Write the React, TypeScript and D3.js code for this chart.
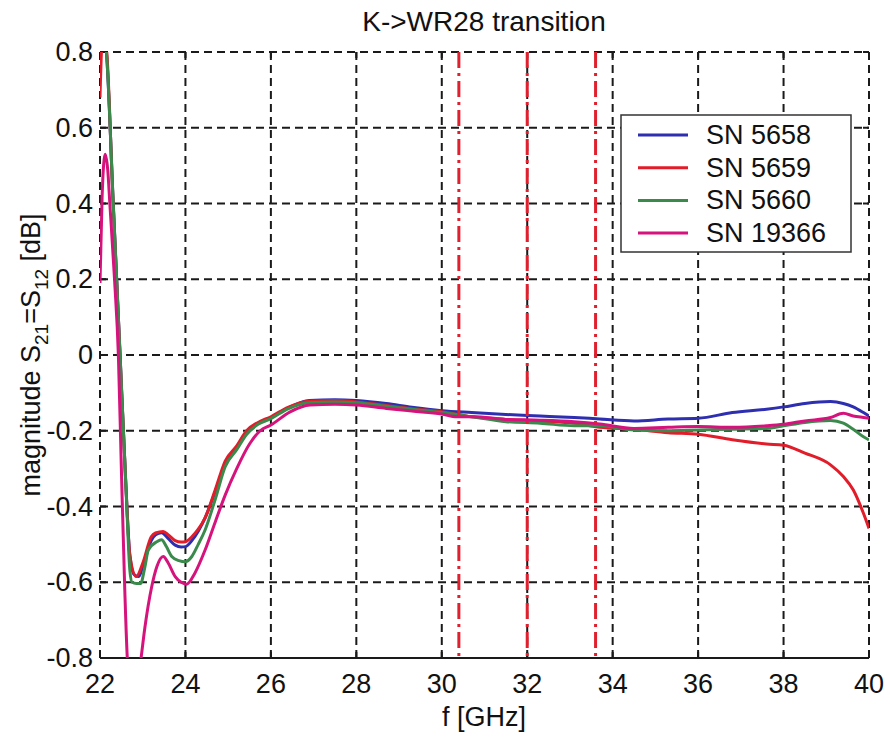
import React from "react";
import * as d3 from "d3";

// ---- data ----
const xTicks = [22, 24, 26, 28, 30, 32, 34, 36, 38, 40];
const yTicks = [0.8, 0.6, 0.4, 0.2, 0, -0.2, -0.4, -0.6, -0.8];
const yTickLabels = ["0.8", "0.6", "0.4", "0.2", "0", "-0.2", "-0.4", "-0.6", "-0.8"];
const markerFreqs = [30.4, 32, 33.6];

const seriesNames = ["SN 5658", "SN 5659", "SN 5660", "SN 19366"];
const seriesColors = ["#2e2eb0", "#e11d2a", "#3a8a4c", "#d6137c"];

const freq5658 = [22.0, 22.08, 22.15, 22.31, 22.47, 22.6, 22.7, 22.8, 22.9, 23.05, 23.2, 23.3, 23.44, 23.6, 23.76, 23.9, 24.0, 24.15, 24.3, 24.46, 24.7, 24.93, 25.2, 25.43, 25.7, 26.0, 26.4, 26.9, 27.5, 28.0, 28.7, 29.3, 30.0, 30.7, 31.5, 32.3, 33.1, 33.7, 34.5, 35.3, 36.0, 36.8, 37.6, 38.0, 38.5, 39.1, 39.4, 39.63, 39.87, 40.0];
const mag5658 = [0.80, 0.86, 0.80, 0.40, 0.0, -0.33, -0.53, -0.58, -0.585, -0.54, -0.49, -0.475, -0.469, -0.485, -0.502, -0.507, -0.506, -0.49, -0.465, -0.43, -0.36, -0.29, -0.245, -0.205, -0.18, -0.165, -0.14, -0.12, -0.118, -0.12, -0.128, -0.138, -0.147, -0.152, -0.157, -0.161, -0.165, -0.169, -0.174, -0.169, -0.167, -0.152, -0.143, -0.137, -0.128, -0.123, -0.128, -0.137, -0.152, -0.161];

const freq5659 = [22.0, 22.06, 22.14, 22.3, 22.46, 22.6, 22.7, 22.85, 23.0, 23.2, 23.3, 23.48, 23.6, 23.76, 23.9, 24.0, 24.15, 24.3, 24.46, 24.7, 24.93, 25.2, 25.43, 25.7, 26.0, 26.4, 26.9, 27.5, 28.0, 28.7, 29.3, 30.0, 30.7, 31.5, 32.3, 33.1, 33.7, 34.5, 35.3, 36.0, 36.8, 37.6, 38.0, 38.5, 39.1, 39.4, 39.63, 39.87, 40.0];
const mag5659 = [0.68, 0.84, 0.82, 0.42, 0.02, -0.33, -0.53, -0.585, -0.55, -0.48, -0.47, -0.466, -0.475, -0.49, -0.494, -0.493, -0.48, -0.46, -0.43, -0.355, -0.28, -0.24, -0.2, -0.178, -0.163, -0.138, -0.122, -0.12, -0.124, -0.133, -0.142, -0.15, -0.163, -0.17, -0.175, -0.18, -0.191, -0.196, -0.205, -0.209, -0.224, -0.235, -0.238, -0.259, -0.29, -0.321, -0.356, -0.418, -0.458];

const freq5660 = [22.0, 22.08, 22.15, 22.31, 22.39, 22.47, 22.6, 22.7, 22.75, 22.85, 22.95, 23.05, 23.13, 23.33, 23.44, 23.55, 23.68, 23.85, 23.99, 24.15, 24.3, 24.46, 24.7, 24.93, 25.2, 25.43, 25.7, 26.0, 26.4, 26.9, 27.5, 28.0, 28.7, 29.3, 30.0, 30.7, 31.5, 32.3, 33.1, 33.7, 34.5, 35.3, 36.0, 36.8, 37.6, 38.0, 38.5, 39.1, 39.4, 39.63, 39.87, 40.0];
const mag5660 = [0.82, 0.86, 0.80, 0.40, 0.20, 0.0, -0.33, -0.57, -0.6, -0.603, -0.603, -0.56, -0.515, -0.493, -0.488, -0.505, -0.532, -0.543, -0.546, -0.532, -0.5, -0.462, -0.38, -0.295, -0.25, -0.21, -0.183, -0.168, -0.142, -0.126, -0.124, -0.126, -0.135, -0.143, -0.152, -0.163, -0.176, -0.18, -0.187, -0.187, -0.198, -0.2, -0.198, -0.196, -0.194, -0.187, -0.178, -0.173, -0.18, -0.196, -0.216, -0.224];

const freq19366 = [22.0, 22.05, 22.12, 22.18, 22.23, 22.34, 22.43, 22.5, 22.58, 22.65, 22.8, 22.95, 23.05, 23.21, 23.33, 23.48, 23.6, 23.76, 23.9, 24.03, 24.22, 24.46, 24.7, 24.93, 25.2, 25.5, 25.75, 26.0, 26.45, 26.92, 27.5, 28.0, 28.7, 29.3, 30.0, 30.35, 30.74, 31.5, 32.3, 33.1, 33.7, 34.5, 35.3, 36.0, 36.8, 37.6, 38.0, 38.5, 39.1, 39.4, 39.63, 39.87, 40.0];
const mag19366 = [0.19, 0.42, 0.53, 0.49, 0.40, 0.20, 0.0, -0.3, -0.62, -0.82, -0.92, -0.81, -0.72, -0.612, -0.559, -0.532, -0.55, -0.585, -0.6, -0.605, -0.576, -0.515, -0.44, -0.37, -0.3, -0.235, -0.2, -0.185, -0.15, -0.132, -0.13, -0.132, -0.141, -0.148, -0.156, -0.163, -0.163, -0.17, -0.172, -0.176, -0.182, -0.194, -0.191, -0.189, -0.191, -0.187, -0.183, -0.174, -0.165, -0.154, -0.161, -0.165, -0.167];

const seriesFreqs = [freq5658, freq5659, freq5660, freq19366];
const seriesMags = [mag5658, mag5659, mag5660, mag19366];

const FONT = "'Liberation Sans', Arial, Helvetica, sans-serif";

export default function App() {
  const W = 890, H = 740;
  const left = 100, right = 869, top = 52, bottom = 658;
  const x = d3.scaleLinear().domain([22, 40]).range([left, right]);
  const y = d3.scaleLinear().domain([-0.8, 0.8]).range([bottom, top]);

  const line = d3
    .line<[number, number]>()
    .x((d) => x(d[0]))
    .y((d) => y(d[1]))
    .curve(d3.curveMonotoneX);

  const gridDash = "8,5";
  const fs = 27;

  return (
    <svg
      width={W}
      height={H}
      viewBox={`0 0 ${W} ${H}`}
      style={{ position: "absolute", left: 0, top: 0, background: "#fff" }}
    >
      <rect x={0} y={0} width={W} height={H} fill="#fff" />
      <defs>
        <clipPath id="plotClip">
          <rect x={left} y={top} width={right - left} height={bottom - top} />
        </clipPath>
      </defs>

      {/* grid */}
      <g stroke="#1a1a1a" strokeWidth={2} strokeDasharray={gridDash} fill="none">
        {xTicks.map((t) => (
          <line key={"gx" + t} x1={x(t)} x2={x(t)} y1={top} y2={bottom} />
        ))}
        {yTicks.map((t) => (
          <line key={"gy" + t} x1={left} x2={right} y1={y(t)} y2={y(t)} />
        ))}
      </g>
      {/* bottom axis solid */}
      <line x1={left} x2={right} y1={bottom} y2={bottom} stroke="#1a1a1a" strokeWidth={2} />
      {/* tick marks */}
      <g stroke="#1a1a1a" strokeWidth={2}>
        {xTicks.map((t) => (
          <g key={"tx" + t}>
            <line x1={x(t)} x2={x(t)} y1={bottom} y2={bottom - 6} />
            <line x1={x(t)} x2={x(t)} y1={top} y2={top + 6} />
          </g>
        ))}
        {yTicks.map((t) => (
          <g key={"ty" + t}>
            <line x1={left} x2={left + 6} y1={y(t)} y2={y(t)} />
            <line x1={right} x2={right - 6} y1={y(t)} y2={y(t)} />
          </g>
        ))}
      </g>

      {/* curves */}
      <g clipPath="url(#plotClip)" fill="none" strokeWidth={3} strokeLinejoin="round">
        {seriesFreqs.map((fr, i) => (
          <path
            key={seriesNames[i]}
            d={line(fr.map((f, j) => [f, seriesMags[i][j]] as [number, number])) || ""}
            stroke={seriesColors[i]}
          />
        ))}
      </g>

      {/* red dash-dot markers */}
      <g stroke="#e0202e" strokeWidth={3} strokeDasharray="16,5,3,5" fill="none">
        {markerFreqs.map((m) => (
          <line key={"m" + m} x1={x(m)} x2={x(m)} y1={top} y2={bottom} />
        ))}
      </g>

      {/* tick labels */}
      <g fontFamily={FONT} fontSize={fs} fill="#111">
        {xTicks.map((t) => (
          <text key={"lx" + t} x={x(t)} y={693} textAnchor="middle">
            {t}
          </text>
        ))}
        {yTicks.map((t, i) => (
          <text key={"ly" + t} x={93} y={y(t)} textAnchor="end" dominantBaseline="central">
            {yTickLabels[i]}
          </text>
        ))}
      </g>

      {/* title */}
      <text x={484} y={31} textAnchor="middle" fontFamily={FONT} fontSize={28} fill="#111">
        K-&gt;WR28 transition
      </text>

      {/* x label */}
      <text x={484} y={726} textAnchor="middle" fontFamily={FONT} fontSize={fs} fill="#111">
        f [GHz]
      </text>

      {/* y label */}
      <text
        transform={`translate(40, ${(top + bottom) / 2}) rotate(-90)`}
        textAnchor="middle"
        fontFamily={FONT}
        fontSize={fs}
        fill="#111"
      >
        magnitude S<tspan fontSize={19} dy={8}>21</tspan>
        <tspan dy={-8}>=S</tspan>
        <tspan fontSize={19} dy={8}>12</tspan>
        <tspan dy={-8}> [dB]</tspan>
      </text>

      {/* legend */}
      <g>
        <rect x={621} y={115} width={230} height={137} fill="#fff" stroke="#333" strokeWidth={1.5} />
        {seriesNames.map((n, i) => {
          const ly = 135 + i * 32.7;
          return (
            <g key={"lg" + n}>
              <line x1={638} x2={688} y1={ly} y2={ly} stroke={seriesColors[i]} strokeWidth={3} />
              <text x={706} y={ly} dominantBaseline="central" fontFamily={FONT} fontSize={fs} fill="#111">
                {n}
              </text>
            </g>
          );
        })}
      </g>
    </svg>
  );
}
